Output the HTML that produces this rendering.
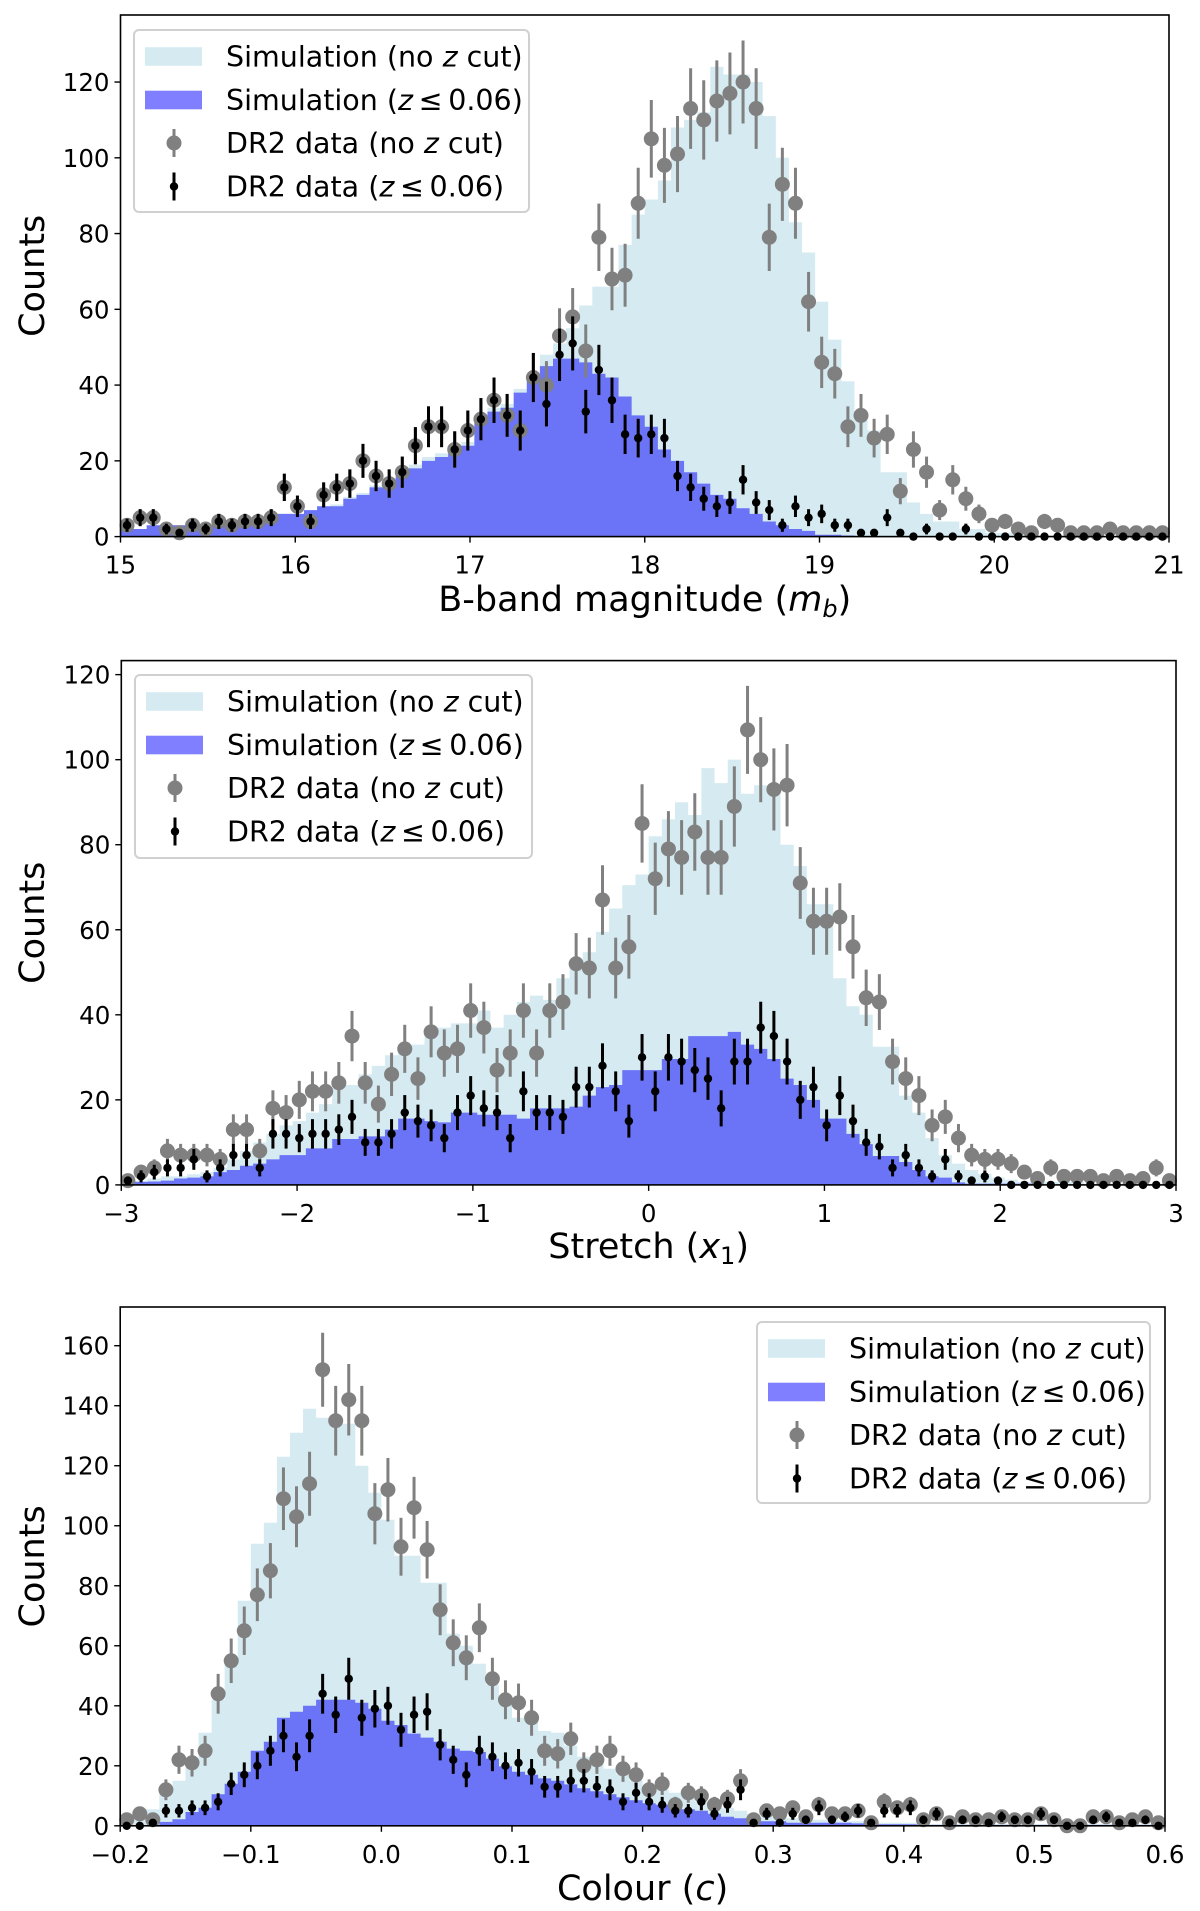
<!DOCTYPE html>
<html><head><meta charset="utf-8"><style>
html,body{margin:0;padding:0;background:#fff;}
svg{display:block;font-family:"DejaVu Sans","Liberation Sans",sans-serif;}
</style></head><body>
<svg id="fig" width="1200" height="1911" viewBox="0 0 1200 1911" xmlns="http://www.w3.org/2000/svg"></svg>
<script>
// ---------- Panel 1: B-band magnitude ----------
const mbTickValues = [15,16,17,18,19,20,21];
const mbTickLabels = ["15","16","17","18","19","20","21"];
const mbYTicks = [0,20,40,60,80,100,120];
const mbLight = [2,2,3,3,3,3,3,4,4,4,5,5,6,6,7,8,8.5,10.5,11.5,13.5,15.5,17,19,21,22,23,25,31,34,35,39,43,48,51,55,61,66,66,77,85,89,94,108,110,112,124,122,122,120,111,100,83,75,62,52,41,33,28,17,17,9,6,4,4,2,2,1,1,0.5,0.5,0.3,0.3,0.2,0,0,0,0,0,0,0];
const mbBlue = [2,2,3,3,3,3,3,4,4,4,5,5,6,6,7,8,8,10,11,13,15,16,18,20,21,22,24,30,33,34,38,42,45,47,47,46,43,42,37,32,29,23,20,17,14,11,10,7.5,6,4,3,2,1.5,0.5,0.5,0.3,0,0,0,0,0,0,0,0,0,0,0,0,0,0,0,0,0,0,0,0,0,0,0,0];
const mbGray = [3,5,5,2,1,3,2,4,3,4,4,5,13,8,4,11,13,14,20,16,14,17,24,29,29,23,28,31,36,32,28,42,40,53,58,49,79,68,69,88,105,98,101,113,110,115,117,120,113,79,93,88,62,46,43,29,32,26,27,12,23,17,7,15,10,6,3,4,2,1,4,3,1,1,1,2,1,1,1,1];
const mbBlack = [3,5,5,2,1,3,2,4,3,4,4,5,13,8,4,11,13,14,20,16,14,17,24,29,29,23,28,31,36,32,28,42,35,48,51,33,44,36,27,26,27,26,16,13,10,8,9,15,9,7,3,8,5,6,3,3,1,1,5,1,0,2,0,0,2,0,0,0,0,0,0,0,0,0,0,0,0,0,0,0];

// ---------- Panel 2: Stretch x1 ----------
const x1TickValues = [-3,-2,-1,0,1,2,3];
const x1TickLabels = ["\u22123","\u22122","\u22121","0","1","2","3"];
const x1YTicks = [0,20,40,60,80,100,120];
const x1Light = [0.5,1,1.5,2,2,2.5,3,4,6,8,10,12,14,15,17,19,23.5,23.5,26,28,30.5,33,33,36.5,37,38,38,41,37,40,43,44.5,43.5,48.6,52,54.7,59.5,65,70.5,73,82,86,90,87,98,94.5,100,92,94,94,80,75,66,66,48.6,42,40,32.5,32.5,21,17,11,7,5,3.5,2.6,1.7,1.2,0.7,0.7,0.7,0.7,0.7,0.3,0.3,0.3,0.3,0.3,0.3,0.3];
const x1Blue = [0.5,0.7,0.8,1,1.5,1.7,2,3,3.5,4.5,5,6,7,7,8.6,8.6,10.8,10.8,11.4,11.4,13,15.6,15.6,15,14.7,17,17,16.5,16.5,16.5,15.6,18,18,18,18.4,21,23,23.5,27,27,27,29.6,29.6,35,35,35,36,33,32,29.6,25,23.5,20,15.6,15.6,12,9.6,6.8,6.8,5.4,3.5,2,1.7,0.6,0.3,0.3,0.3,0.3,0.3,0.3,0,0,0,0,0,0,0,0,0,0];
const x1Gray = [1,3,4,8,7,7,7,6,13,13,8,18,17,20,22,22,24,35,24,19,26,32,25,36,31,32,41,37,27,31,41,31,41,43,52,51,67,51,56,85,72,79,77,83,77,77,89,107,100,93,94,71,62,62,63,56,44,43,29,25,21,14,16,11,7,6,6,5,3,1.5,4,2,2,2,1,2,1,1.5,4,1];
const x1Black = [1,2,3,4,4,6,2,4,7,7,4,12,12,11,12,12,13,16,10,10,12,17,15,14,11,17,21,18,17,11,22,17,17,16,23,23,28,22,15,30,22,30,29,27,25,18,29,29,37,35,29,20,23,14,21,15,10,9,4,7,4,2,6,2,1,2,1,0,0,0,0,0,0,0,0,0,0,0,0,0];

// ---------- Panel 3: Colour c ----------
const cTickValues = [-0.2,-0.1,0,0.1,0.2,0.3,0.4,0.5,0.6];
const cTickLabels = ["\u22120.2","\u22120.1","0.0","0.1","0.2","0.3","0.4","0.5","0.6"];
const cYTicks = [0,20,40,60,80,100,120,140,160];
const cLight = [3,3,5.5,12,15,20,31,42,54,75,94,101,123,131,139,136,136,134,120,111,102,90,90,81,81,64,60,54,47,42,36,35.6,31.6,31,26.7,23,22.4,19,17,15,13,12,11,10,8,7,6,5,4,3,3,2.5,2,2,2,1.5,1.5,1.5,1,1,1,0.5,0.5,0.5,0.5,0.5,0.5,0.5,0.5,0.5,0.5,0.5,0.5,0.5,0.5,0.5,0.5,0.5,0.5,0.5];
const cBlue = [0,0,0,1.3,2.2,4.6,6,10.5,14,18,25,28,36,38,40,42,42,42,41,39,35,33.6,30.7,29.4,28,25.7,25,24.6,22.4,19.8,18,17,15.8,15,13.8,12.5,11.5,10.5,9.5,8.5,7.5,7,6,5.5,5,4,3,2.5,2,1.5,1.5,1,1,1,1,1,0.8,0.8,0.5,0.5,0.5,0.3,0.3,0.3,0.3,0.3,0.3,0.3,0.3,0.3,0.3,0.3,0.3,0.3,0.3,0.3,0.3,0.3,0.3,0.3];
const cGray = [2,4,2,12,22,21,25,44,55,65,77,85,109,103,114,152,135,142,135,104,112,93,106,92,72,61,56,66,49,42,41,36,25,24,29,20,22,25,19,17,12,14,7,11,10,7,9,15,2,5,4,6,3,7,4,4,5,1,8,6,7,2,4,1,3,2,2,3,2,2,4,2,0,0,3,3,1,2,3,1];
const cBlack = [0,0,1,5,5,6,6,8,14,17,20,25,30,23,30,44,37,49,36,39,40,32,37,38,27,22,17,25,23,20,21,18,13,13,15,15,13,12,8,11,8,7,5,5,8,4,7,12,1,4,1,4,2,6,2,3,5,1,5,5,6,2,4,1,2,2,1,3,2,2,4,2,0,0,2,3,1,1,2,0];

const NS = "http://www.w3.org/2000/svg";
const svg = document.getElementById("fig");
function mk(tag, attrs, parent) {
  const e = document.createElementNS(NS, tag);
  for (const k in attrs) e.setAttribute(k, attrs[k]);
  (parent || svg).appendChild(e);
  return e;
}

const LIGHT = "#d5ebf1", BLUE = "#6b73f6", GRAY = "#808080";
const TICK_FS = 24.5, TITLE_FS = 35, LEG_FS = 28.5;

function drawPanel(p) {
  const g = mk("g", {});
  
  
  const n = p.light.length;
  const bw = (p.xmax - p.xmin) / n;
  const sx = v => p.left + (v - p.xmin) / (p.xmax - p.xmin) * (p.right - p.left);
  const sy = v => p.bottom - v / p.ymax * (p.bottom - p.top);

  function histPath(vals) {
    let d = "M" + sx(p.xmin) + "," + sy(0);
    for (let i = 0; i < n; i++) {
      const x0 = sx(p.xmin + i * bw), x1 = sx(p.xmin + (i + 1) * bw), y = sy(vals[i]);
      d += " L" + x0 + "," + y + " L" + x1 + "," + y;
    }
    d += " L" + sx(p.xmax) + "," + sy(0) + " Z";
    return d;
  }
  const hl = mk("path", {d: histPath(p.light), fill: LIGHT}, g);
  
  
  const hb = mk("path", {d: histPath(p.blue), fill: BLUE}, g);
  
  

  function points(vals, color, r, sw, nm) {
    const pg = mk("g", {}, g);
    
    
    for (let i = 0; i < n; i++) {
      const v = vals[i], cx = sx(p.xmin + (i + 0.5) * bw);
      const e = Math.sqrt(v);
      if (e > 0) {
        const ln = mk("line", {x1: cx, x2: cx, y1: sy(v + e), y2: sy(Math.max(0, v - e)), stroke: color, "stroke-width": sw}, pg);
        
        
      }
      const c = mk("circle", {cx: cx, cy: sy(v), r: r, fill: color}, pg);
      
      
    }
  }
  points(p.gray, GRAY, 7.5, 3, "dr2-no-z-cut-points");
  points(p.black, "#000", 4.2, 3, "dr2-z-cut-points");

  const fr = mk("rect", {x: p.left, y: p.top, width: p.right - p.left, height: p.bottom - p.top, fill: "none", stroke: "#000", "stroke-width": 1.6}, g);
  
  

  p.xticks.forEach((v, i) => {
    const x = sx(v);
    mk("line", {x1: x, x2: x, y1: p.bottom, y2: p.bottom + 6, stroke: "#000", "stroke-width": 1.4}, g);
    const t = mk("text", {x: x, y: p.bottom + 37, "font-size": TICK_FS, "text-anchor": "middle", fill: "#000"}, g);
    
    
    t.textContent = p.xlabels[i];
  });
  p.yticks.forEach(v => {
    const y = sy(v);
    mk("line", {x1: p.left - 6, x2: p.left, y1: y, y2: y, stroke: "#000", "stroke-width": 1.4}, g);
    const t = mk("text", {x: p.left - 11, y: y + 9, "font-size": TICK_FS, "text-anchor": "end", fill: "#000"}, g);
    
    
    t.textContent = String(v);
  });
  const cy = (p.top + p.bottom) / 2;
  const yt = mk("text", {x: 0, y: 0, "font-size": TITLE_FS, "text-anchor": "middle", transform: "translate(44," + cy + ") rotate(-90)"}, g);
  
  
  yt.textContent = "Counts";
  const xt = mk("text", {x: (p.left + p.right) / 2, y: p.xTitleY, "font-size": TITLE_FS, "text-anchor": "middle"}, g);
  
  
  xt.innerHTML = p.xTitle;

  const L = p.legend;
  const lg = mk("g", {}, g);
  
  
  mk("rect", {x: L.x, y: L.y, width: L.w, height: L.h, rx: 5, fill: "#fff", "fill-opacity": 0.85, stroke: "#d0d0d0", "stroke-width": 2}, lg);
  const rows = [L.y + 26.5, L.y + 70, L.y + 113, L.y + 156.5];
  const px = L.x + 11, pw = 57, mx = L.x + 40, tx = L.x + 92;
  const r1 = mk("rect", {x: px, y: rows[0] - 9.3, width: pw, height: 18.6, fill: LIGHT}, lg);
  
  
  const r2 = mk("rect", {x: px, y: rows[1] - 9.3, width: pw, height: 18.6, fill: "#7f7fff"}, lg);
  
  
  mk("line", {x1: mx, x2: mx, y1: rows[2] - 14, y2: rows[2] + 14, stroke: GRAY, "stroke-width": 3}, lg);
  const g1 = mk("circle", {cx: mx, cy: rows[2], r: 7.5, fill: GRAY}, lg);
  
  
  mk("line", {x1: mx, x2: mx, y1: rows[3] - 14, y2: rows[3] + 14, stroke: "#000", "stroke-width": 3}, lg);
  const g2 = mk("circle", {cx: mx, cy: rows[3], r: 4.2, fill: "#000"}, lg);
  
  
  const labels = [
    'Simulation (no <tspan font-style="italic">z</tspan> cut)',
    'Simulation (<tspan font-style="italic">z</tspan>\u2009\u2264\u20090.06)',
    'DR2 data (no <tspan font-style="italic">z</tspan> cut)',
    'DR2 data (<tspan font-style="italic">z</tspan>\u2009\u2264\u20090.06)'
  ];
  labels.forEach((s, i) => {
    const t = mk("text", {x: tx, y: rows[i] + 10, "font-size": LEG_FS, fill: "#000"}, lg);
    
    
    t.innerHTML = s;
  });
}

drawPanel({
  name: "panel-bband-magnitude", left: 120.5, right: 1169, top: 15, bottom: 536.6,
  xmin: 15, xmax: 21, ymax: 137.7,
  light: mbLight, blue: mbBlue, gray: mbGray, black: mbBlack,
  xticks: mbTickValues, xlabels: mbTickLabels, yticks: mbYTicks,
  xTitle: 'B-band magnitude (<tspan font-style="italic">m</tspan><tspan font-style="italic" font-size="24" dy="6">b</tspan><tspan dy="-6">)</tspan>',
  xTitleY: 611,
  legend: {x: 134, y: 30, w: 395, h: 182}
});
drawPanel({
  name: "panel-stretch", left: 121.3, right: 1176, top: 660.6, bottom: 1184.9,
  xmin: -3, xmax: 3, ymax: 123.3,
  light: x1Light, blue: x1Blue, gray: x1Gray, black: x1Black,
  xticks: x1TickValues, xlabels: x1TickLabels, yticks: x1YTicks,
  xTitle: 'Stretch (<tspan font-style="italic">x</tspan><tspan font-size="24" dy="6">1</tspan><tspan dy="-6">)</tspan>',
  xTitleY: 1258,
  legend: {x: 135, y: 675, w: 397, h: 183}
});
drawPanel({
  name: "panel-colour", left: 120.2, right: 1165, top: 1307, bottom: 1825.8,
  xmin: -0.2, xmax: 0.6, ymax: 172.9,
  light: cLight, blue: cBlue, gray: cGray, black: cBlack,
  xticks: cTickValues, xlabels: cTickLabels, yticks: cYTicks,
  xTitle: 'Colour (<tspan font-style="italic">c</tspan>)',
  xTitleY: 1900,
  legend: {x: 757, y: 1322, w: 393, h: 181}
});
</script>
</body></html>
